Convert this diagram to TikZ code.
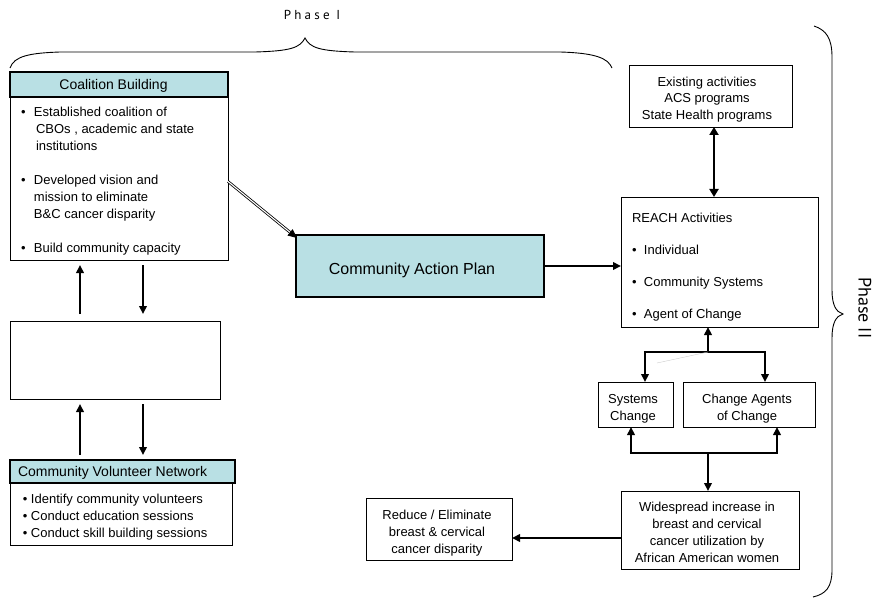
\documentclass[tikz,border=0pt]{standalone}
\usepackage{fontspec}
\setmainfont{Liberation Sans}
\newfontfamily\phasefont[LetterSpace=25]{PT Sans}
\newfontfamily\phasetwofont{PT Sans}
\usetikzlibrary{arrows.meta,calc}
\definecolor{hdrfill}{RGB}{185,224,228}
\newcommand{\tlines}[1]{\begin{tabular}[t]{@{}l@{}}#1\end{tabular}}
\newcommand{\clines}[1]{\begin{tabular}[t]{@{}c@{}}#1\end{tabular}}
\newcommand{\bul}[1]{\makebox[#1][l]{\textbullet}}
\begin{document}
\begin{tikzpicture}[x=1pt,y=-1pt,
  box/.style={draw=black, line width=0.8pt, inner sep=0pt, outer sep=0pt, anchor=north west},
  hdr/.style={box, fill=hdrfill, line width=1.2pt},
  txt/.style={inner sep=0pt, outer sep=0pt, font=\fontsize{13}{17}\selectfont},
  arr/.style={line width=2.3pt, -{Triangle[length=8pt,width=7.5pt]}},
  arrboth/.style={line width=2.8pt, {Triangle[length=8pt,width=9pt]}-{Triangle[length=8pt,width=9pt]}},
  plain/.style={line width=2.3pt},
  bracestyle/.style={line width=0.9pt},
]
\useasboundingbox (0,0) rectangle (876,599);

% braces
\draw[bracestyle] (10,68) .. controls (14,56) and (30,53) .. (60,52) -- (255,52)
  .. controls (290,51) and (300,48) .. (305,38) .. controls (310,48) and (320,51) .. (355,52)
  -- (560,52) .. controls (595,53) and (608,58) .. (612,68);
\node[inner sep=0pt, font=\phasefont\fontsize{13}{15}\selectfont] (phaseone) at (312,14.5) {Phase I};
\draw[bracestyle] (814,26) .. controls (826,30) and (832,38) .. (832,57) -- (832,290)
  .. controls (832,305) and (836,312) .. (843,314) .. controls (836,316) and (832,323) .. (832,338)
  -- (832,570) .. controls (832,587) and (826,594) .. (813,597);
\node[inner sep=0pt, rotate=-90, font=\phasetwofont\fontsize{18}{20}\selectfont] (phasetwo) at (865,308) {Phase II};

% boxes
\node[hdr, minimum width=218pt, minimum height=25pt] (cbhead) at (10,72) {};
\node[box, minimum width=218pt, minimum height=163pt] (cbbody) at (10,97) {};
\node[box, minimum width=210pt, minimum height=78pt] (mid) at (10,321) {};
\node[hdr, minimum width=225pt, minimum height=23pt] (cvnhead) at (10,460) {};
\node[box, minimum width=222pt, minimum height=62pt] (cvnbody) at (10,483) {};
\node[hdr, minimum width=248pt, minimum height=62pt] (cap) at (296,235) {};
\node[box, minimum width=163pt, minimum height=62pt] (exist) at (629,65) {};
\node[box, minimum width=197pt, minimum height=130pt] (reach) at (621,197) {};
\node[box, minimum width=75pt, minimum height=45pt] (sys) at (598,382) {};
\node[box, minimum width=132pt, minimum height=45pt] (ca) at (683,382) {};
\node[box, minimum width=178pt, minimum height=78pt] (wide) at (621,491) {};
\node[box, minimum width=146pt, minimum height=62pt] (reduce) at (366,498) {};

% texts
\node[txt, font=\fontsize{14}{17}\selectfont, anchor=base] (cbheadtxt) at (113.5,90) {Coalition Building};
\node[txt, anchor=base west] (cbtxt) at (21,116.5) {\tlines{%
  \bul{13pt}Established coalition of\\
  \hspace*{15pt}CBOs , academic and state\\
  \hspace*{15pt}institutions\\
  \\
  \bul{13pt}Developed vision and\\
  \hspace*{13pt}mission to eliminate\\
  \hspace*{13pt}B\&C cancer disparity\\
  \\
  \bul{13pt}Build community capacity}};
\node[txt, font=\fontsize{14}{17}\selectfont, anchor=base west] (cvnheadtxt) at (18,476.5) {Community Volunteer Network};
\node[txt, anchor=base west] (cvntxt) at (23,503) {\tlines{%
  \bul{8pt}Identify community volunteers\\
  \bul{8pt}Conduct education sessions\\
  \bul{8pt}Conduct skill building sessions}};
\node[txt, font=\fontsize{16}{19}\selectfont, anchor=base] (captxt) at (412,274.5) {Community Action Plan};
\node[txt, font=\fontsize{13}{16.5}\selectfont, anchor=base] (existtxt) at (707,86.5) {\clines{%
  Existing activities\\ ACS programs\\ State Health programs}};
\node[txt, font=\fontsize{13}{32}\selectfont, anchor=base west] (reachtxt) at (632,222.5) {\tlines{%
  REACH Activities\\
  \bul{12pt}Individual\\
  \bul{12pt}Community Systems\\
  \bul{12pt}Agent of Change}};
\node[txt, anchor=base] (systxt) at (633,403.5) {\clines{Systems\\ Change}};
\node[txt, anchor=base] (catxt) at (747,403.5) {\clines{Change Agents\\ of Change}};
\node[txt, anchor=base] (widetxt) at (707,511.5) {\clines{%
  Widespread increase in\\ breast and cervical\\ cancer utilization by\\ African American women}};
\node[txt, anchor=base] (reducetxt) at (437,519.5) {\clines{%
  Reduce / Eliminate\\ breast \& cervical\\ cancer disparity}};

% connectors, left column
\coordinate (ax) at (80,0);
\coordinate (bx) at (143,0);
\draw[arr, shorten <=7pt, shorten >=5pt] (ax |- mid.north) -- (ax |- cbbody.south);
\draw[arr, shorten <=5pt, shorten >=7pt] (bx |- cbbody.south) -- (bx |- mid.north);
\draw[arr, shorten <=5pt, shorten >=5pt] (ax |- cvnhead.north) -- (ax |- mid.south);
\draw[arr, shorten <=5pt, shorten >=5pt] (bx |- mid.south) -- (bx |- cvnhead.north);

% coalition -> action plan
\draw[line width=0.8pt, double=white, double distance=1.1pt, -{Triangle[length=9pt,width=8pt]}]
  ([yshift=-3pt]cbbody.east) -- ([xshift=1pt,yshift=-3pt]cap.north west);
% action plan -> reach
\draw[arr] (cap.east) -- (cap.east -| reach.west);
% existing <-> reach
\coordinate (ex) at (714,0);
\draw[arrboth] (ex |- exist.south) -- (ex |- reach.north);

% reach fan-out
\coordinate (j) at (708,352);
\coordinate (jl) at (645,352);
\coordinate (jr) at (765,352);
\draw[arr] (j) -- (j |- reach.south);
\draw[plain] ([xshift=-1.15pt]jl) -- ([xshift=1.15pt]jr);
\draw[arr] (jl) -- (jl |- sys.north);
\draw[arr] (jr) -- (jr |- ca.north);
\draw[gray!40, line width=0.4pt] (657,363) -- (j);

% fan-in to widespread
\coordinate (k) at (708,453);
\coordinate (kl) at (631,453);
\coordinate (kr) at (777,453);
\draw[plain] ([xshift=-1.15pt]kl) -- ([xshift=1.15pt]kr);
\draw[arr] (kl) -- (kl |- sys.south);
\draw[arr] (kr) -- (kr |- ca.south);
\draw[arr] (k) -- (k |- wide.north);

% widespread -> reduce
\coordinate (w) at (0,538);
\draw[arr] (w -| wide.west) -- (w -| reduce.east);
\end{tikzpicture}
\end{document}
